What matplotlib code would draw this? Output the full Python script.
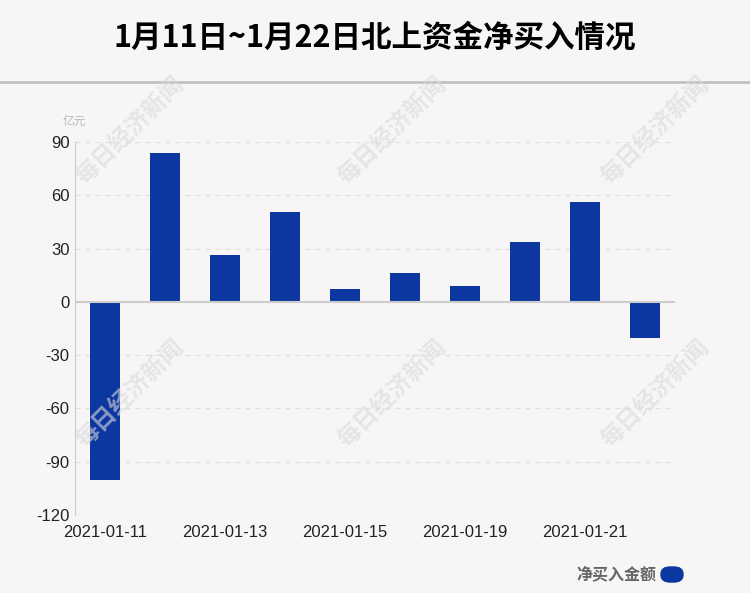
import matplotlib
matplotlib.use("Agg")
import matplotlib.pyplot as plt
from matplotlib.patches import FancyBboxPatch

plt.rcParams['font.family'] = ['Liberation Sans', 'Noto Sans CJK SC', 'DejaVu Sans']

dates = ["2021-01-11", "2021-01-12", "2021-01-13", "2021-01-14", "2021-01-15",
         "2021-01-18", "2021-01-19", "2021-01-20", "2021-01-21", "2021-01-22"]
values = [-100.1, 84.0, 26.5, 50.8, 7.3, 16.4, 9.0, 33.8, 56.3, -20.2]
yticks = [-120, -90, -60, -30, 0, 30, 60, 90]

bg = "#f8f5f6"
blue = "#0c36a0"

fig = plt.figure(figsize=(7.5, 5.93), dpi=100, facecolor=bg)
ax = fig.add_axes([0.1, 0.1315, 0.8, 0.629])
ax.set_facecolor(bg)

x = list(range(len(dates)))
ax.bar(x, values, width=0.5, color=blue, zorder=3)

ax.set_xlim(-0.5, len(dates) - 0.5)
ax.set_ylim(-120, 90)
ax.set_yticks(yticks)
ax.set_yticklabels([str(v) for v in yticks], fontsize=12, color="#222222")
ax.set_xticks(x[::2])
ax.set_xticklabels(dates[::2], fontsize=12, color="#222222")
ax.tick_params(length=0, pad=4)
ax.tick_params(axis="x", pad=7)

ax.grid(axis="y", linestyle=(0, (4, 4)), color="#e2dfe0", linewidth=0.9, zorder=0)
ax.axhline(0, color="#cccccc", linewidth=1.5, zorder=4)
for s in ["top", "right", "bottom"]:
    ax.spines[s].set_visible(False)
ax.spines["left"].set_color("#cccccc")

# unit label
fig.text(63 / 750, 1 - 121 / 593, "亿元", fontsize=8.5, color="#bbbbbb",
         family=['Noto Sans CJK SC'], va="center", ha="left")

# title + separator
fig.text(0.5, 1 - 38 / 593, "1月11日~1月22日北上资金净买入情况", fontsize=22,
         fontweight="bold", ha="center", va="center", family=['Noto Sans CJK SC'])
fig.add_artist(plt.Line2D([0, 1], [1 - 82 / 593, 1 - 82 / 593], color="#c2c0c1",
                          linewidth=2, transform=fig.transFigure))

# legend
fig.text(656 / 750, 1 - 574 / 593, "净买入金额", fontsize=11.5, fontweight="bold",
         color="#666666", ha="right", va="center", family=['Noto Sans CJK SC'])
fig.add_artist(FancyBboxPatch((661 / 750, 1 - 582 / 593), 22 / 750, 15 / 593,
                              boxstyle="round,pad=0,rounding_size=0.012",
                              transform=fig.transFigure, color=blue))

# watermarks
for wx in [130, 392, 655]:
    for wy in [130, 393]:
        fig.text(wx / 750, 1 - wy / 593, "每日经济新闻", fontsize=17, fontweight="bold",
                 color="#dcd9da", alpha=0.6, rotation=45, ha="center", va="center",
                 family=['Noto Sans CJK SC'], zorder=10)

fig.savefig("out.png", dpi=100, facecolor=bg)
